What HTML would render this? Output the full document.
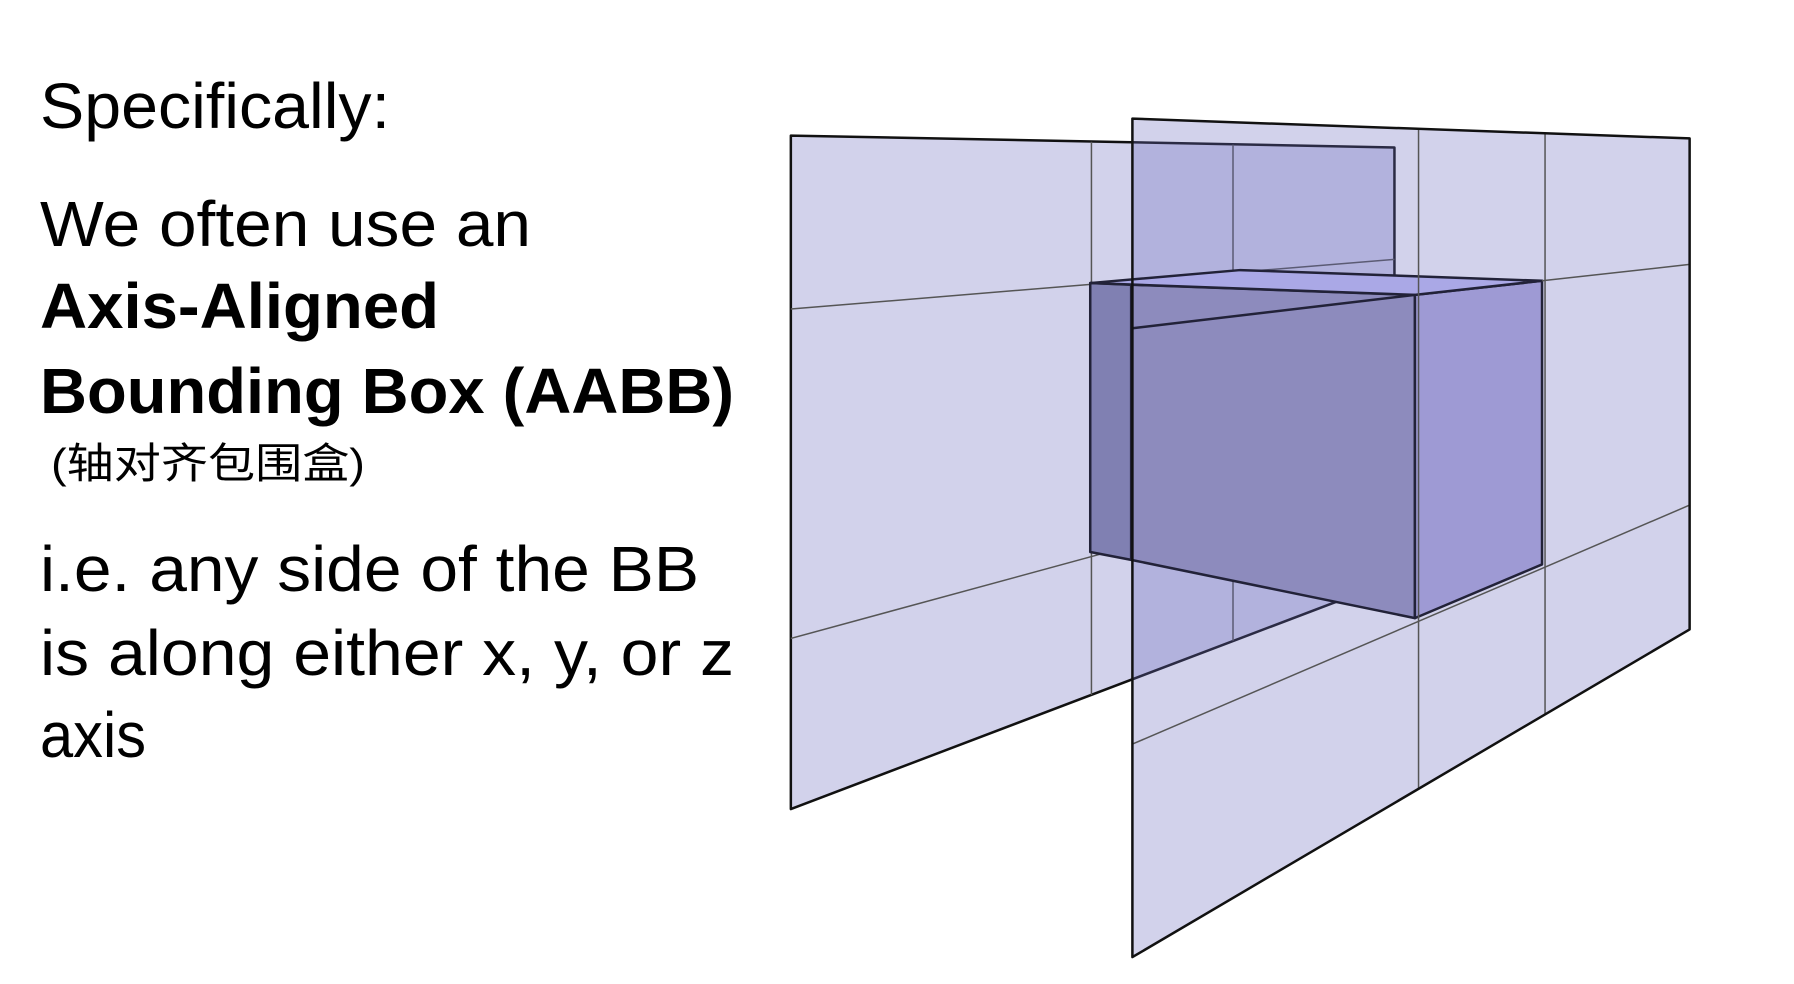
<!DOCTYPE html>
<html><head><meta charset="utf-8"><style>
html,body{margin:0;padding:0;background:#fff;width:1794px;height:984px;overflow:hidden}
svg{display:block}
text{font-family:"Liberation Sans","Noto Sans CJK SC",sans-serif;fill:#000}
</style></head><body>
<svg width="1794" height="984" viewBox="0 0 1794 984">
<g>
<text x="40" y="128" font-size="64" textLength="350" lengthAdjust="spacingAndGlyphs">Specifically:</text>
<text x="40" y="246" font-size="64" textLength="491" lengthAdjust="spacingAndGlyphs">We often use an</text>
<text x="40" y="328" font-size="64" font-weight="bold" textLength="399" lengthAdjust="spacingAndGlyphs">Axis-Aligned</text>
<text x="40" y="413" font-size="64" font-weight="bold" textLength="694" lengthAdjust="spacingAndGlyphs">Bounding Box (AABB)</text>
<text x="51" y="478" font-size="42" textLength="314" lengthAdjust="spacingAndGlyphs">(轴对齐包围盒)</text>
<text x="40" y="591" font-size="64" textLength="659" lengthAdjust="spacingAndGlyphs">i.e. any side of the BB</text>
<text x="40" y="675" font-size="64" textLength="694" lengthAdjust="spacingAndGlyphs">is along either x, y, or z</text>
<text x="40" y="757" font-size="64" textLength="106" lengthAdjust="spacingAndGlyphs">axis</text>
</g>
<g transform="translate(780,100) scale(0.6024,0.565)" stroke-linejoin="round">
 <g>
  <polygon points="18,63 1020,84 1020,849 18,1255" fill="rgba(105,105,190,0.3)" stroke="#111" stroke-width="2.5" vector-effect="non-scaling-stroke"/>
  <g stroke="#555" stroke-width="1.5" fill="none">
   <line x1="517" y1="74" x2="517" y2="1053" vector-effect="non-scaling-stroke"/>
   <line x1="752" y1="79" x2="752" y2="957" vector-effect="non-scaling-stroke"/>
   <line x1="18" y1="370" x2="1020" y2="282" vector-effect="non-scaling-stroke"/>
   <line x1="18" y1="953" x2="1020" y2="662" vector-effect="non-scaling-stroke"/>
  </g>
 </g>
 <g>
  <polygon points="585,33 1510,68 1510,937 585,1517" fill="rgba(105,105,190,0.3)" stroke="none"/>
 </g>
 <g stroke="#222238" stroke-width="2.5">
  <polygon points="515,324 583,327 583,814 515,800" fill="#8080b2" vector-effect="non-scaling-stroke"/>
  <polygon points="583,327 1054,345 1054,917 583,814" fill="#8d8bbd" vector-effect="non-scaling-stroke"/>
  <polygon points="1054,345 1265,320 1265,822 1054,917" fill="#9e9ad4" vector-effect="non-scaling-stroke"/>
  <polygon points="515,324 764,301 1265,320 1054,345" fill="#aaa8e6" vector-effect="non-scaling-stroke"/>
 </g>
 <g fill="none">
  <g stroke="#555" stroke-width="1.5">
   <line x1="1060" y1="51" x2="1060" y2="1219" vector-effect="non-scaling-stroke"/>
   <line x1="1270" y1="59" x2="1270" y2="1087" vector-effect="non-scaling-stroke"/>
   <line x1="1265" y1="320" x2="1510" y2="291" vector-effect="non-scaling-stroke"/>
   <line x1="585" y1="1140" x2="1510" y2="717" vector-effect="non-scaling-stroke"/>
  </g>
  <line x1="585" y1="404" x2="1054" y2="345" stroke="#222238" stroke-width="2.5" vector-effect="non-scaling-stroke"/>
  <polygon points="585,33 1510,68 1510,937 585,1517" stroke="#111" stroke-width="2.5" vector-effect="non-scaling-stroke"/>
 </g>
</g>
</svg>
</body></html>
